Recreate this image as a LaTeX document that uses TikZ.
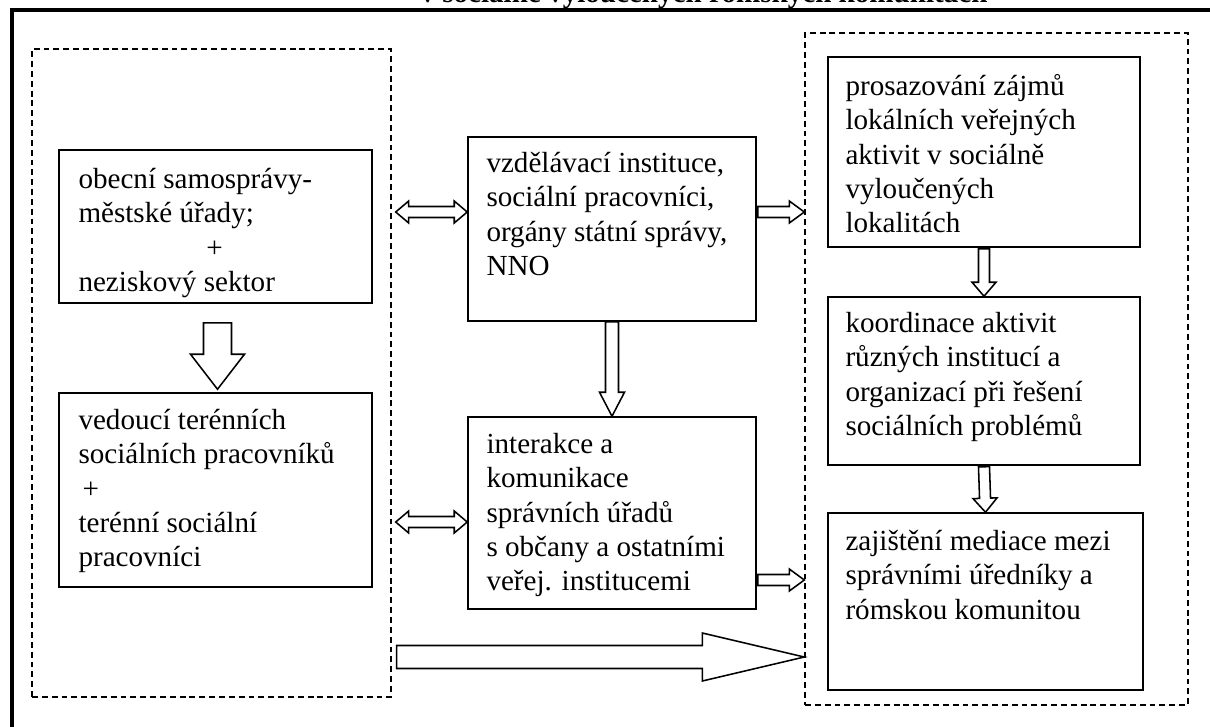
\documentclass[tikz,border=0pt]{standalone}
\usepackage{fontspec}
\setmainfont{Liberation Serif}
\usetikzlibrary{calc,fit}

\begin{document}
\begin{tikzpicture}[x=0.025cm, y=-0.025cm,
		box/.style={draw, line width=1.1pt, inner sep=0pt},
		group/.style={draw, line width=1pt, inner sep=0pt, dash pattern=on 4.2pt off 2.8pt},
		txt/.style={anchor=north west, inner sep=0pt, align=left, font=\fontsize{20.7}{24.4}\selectfont},
		hollow/.style={draw, line width=1.1pt, fill=white, line join=miter},
		% single block arrow: shaft half width, head half width, head length
		barrow/.style n args={3}{hollow, to path={
				($(\tikztostart)!#1!90:(\tikztotarget)$)
				-- ($(\tikztotarget)!#3!(\tikztostart)!#1!90:(\tikztotarget)$)
				-- ($(\tikztotarget)!#3!(\tikztostart)!#2!90:(\tikztotarget)$)
				-- (\tikztotarget)
				-- ($(\tikztotarget)!#3!(\tikztostart)!#2!-90:(\tikztotarget)$)
				-- ($(\tikztotarget)!#3!(\tikztostart)!#1!-90:(\tikztotarget)$)
				-- ($(\tikztostart)!#1!-90:(\tikztotarget)$) -- cycle}},
		% double block arrow
		darrow/.style n args={3}{hollow, to path={
				(\tikztostart)
				-- ($(\tikztostart)!#3!(\tikztotarget)!#2!90:(\tikztotarget)$)
				-- ($(\tikztostart)!#3!(\tikztotarget)!#1!90:(\tikztotarget)$)
				-- ($(\tikztotarget)!#3!(\tikztostart)!#1!90:(\tikztotarget)$)
				-- ($(\tikztotarget)!#3!(\tikztostart)!#2!90:(\tikztotarget)$)
				-- (\tikztotarget)
				-- ($(\tikztotarget)!#3!(\tikztostart)!#2!-90:(\tikztotarget)$)
				-- ($(\tikztotarget)!#3!(\tikztostart)!#1!-90:(\tikztotarget)$)
				-- ($(\tikztostart)!#3!(\tikztotarget)!#1!-90:(\tikztotarget)$)
				-- ($(\tikztostart)!#3!(\tikztotarget)!#2!-90:(\tikztotarget)$)
				-- cycle}}]
	
	\useasboundingbox (0,0) rectangle (1210,726);
	
	% title, cut by the page edge
	\node [anchor=base, inner sep=0pt, font=\fontsize{20.7}{24.4}\selectfont\bfseries] (title) at (704,2) {v sociálně vyloučených romských komunitách};
	\draw [line width=2.8pt] (12,740) -- (12,10) -- (1230,10);
	
	% dashed groups
	\node [group, fit={(32,49) (391,697)}] (leftgrp) {};
	\node [group, fit={(805,33) (1188,705)}] (rightgrp) {};
	
	% boxes
	\node [box, fit={(59,150) (372,303)}] (boxA) {};
	\node [box, fit={(59,393) (372,587)}] (boxB) {};
	\node [box, fit={(468,137) (756,321)}] (boxC) {};
	\node [box, fit={(468,417) (756,609)}] (boxD) {};
	\node [box, fit={(828,57) (1140,247)}] (boxE) {};
	\node [box, fit={(828,297) (1140,465)}] (boxF) {};
	\node [box, fit={(828,513) (1143,690)}] (boxG) {};
	
	\node [txt] (txtA) at ($(boxA.north west)+(20,15)$) {\strut obecní samosprávy-\\městské úřady;\\\hspace*{91pt}+\\neziskový sektor};
	\node [txt] (txtB) at ($(boxB.north west)+(20,13)$) {\strut vedoucí terénních\\sociálních pracovníků\\\hspace*{3pt}+\\terénní sociální\\pracovníci};
	\node [txt] (txtC) at ($(boxC.north west)+(19,12)$) {\strut vzdělávací instituce,\\sociální pracovníci,\\orgány státní správy,\\NNO};
	\node [txt] (txtD) at ($(boxD.north west)+(19,13)$) {\strut interakce a\\komunikace\\správních úřadů\\s občany a ostatními\\veřej. institucemi};
	\node [txt] (txtE) at ($(boxE.north west)+(18,15)$) {\strut prosazování zájmů\\lokálních veřejných\\aktivit v sociálně\\vyloučených\\lokalitách};
	\node [txt] (txtF) at ($(boxF.north west)+(18,12)$) {\strut koordinace aktivit\\různých institucí a\\organizací při řešení\\sociálních problémů};
	\node [txt] (txtG) at ($(boxG.north west)+(18,14)$) {\strut zajištění mediace mezi\\správními úředníky a\\rómskou komunitou};
	
	% block arrows
	\draw [barrow={0.35cm}{0.675cm}{0.875cm}] ($(boxA.south)+(2,19)$) to ($(boxB.north)+(2,-3)$);
	\draw [barrow={0.1625cm}{0.3125cm}{0.6cm}] (boxC.south) to (boxD.north);
	\draw [barrow={0.1375cm}{0.3cm}{0.35cm}] ($(boxE.south)+(0,1)$) to (boxF.north);
	\draw [barrow={0.1375cm}{0.3cm}{0.35cm}] ($(boxF.south)+(0,1)$) to (boxG.north);
	
	\draw [darrow={0.1375cm}{0.275cm}{0.325cm}] ($(leftgrp.east)+(4,-161)$) to ($(boxC.west)+(0,-17)$);
	\draw [darrow={0.1375cm}{0.275cm}{0.325cm}] ($(leftgrp.east)+(4,149)$) to ($(boxD.west)+(0,9)$);
	\draw [barrow={0.1375cm}{0.275cm}{0.375cm}] ($(boxC.east)+(1,-17)$) to ($(rightgrp.west)+(0,-157)$);
	\draw [barrow={0.1375cm}{0.275cm}{0.375cm}] ($(boxD.east)+(1,67)$) to ($(rightgrp.west)+(0,211)$);
	
	\draw [barrow={0.2875cm}{0.6cm}{2.55cm}] ($(leftgrp.east)+(5,284)$) to ($(rightgrp.west)+(0,288)$);
	
\end{tikzpicture}
\end{document}
